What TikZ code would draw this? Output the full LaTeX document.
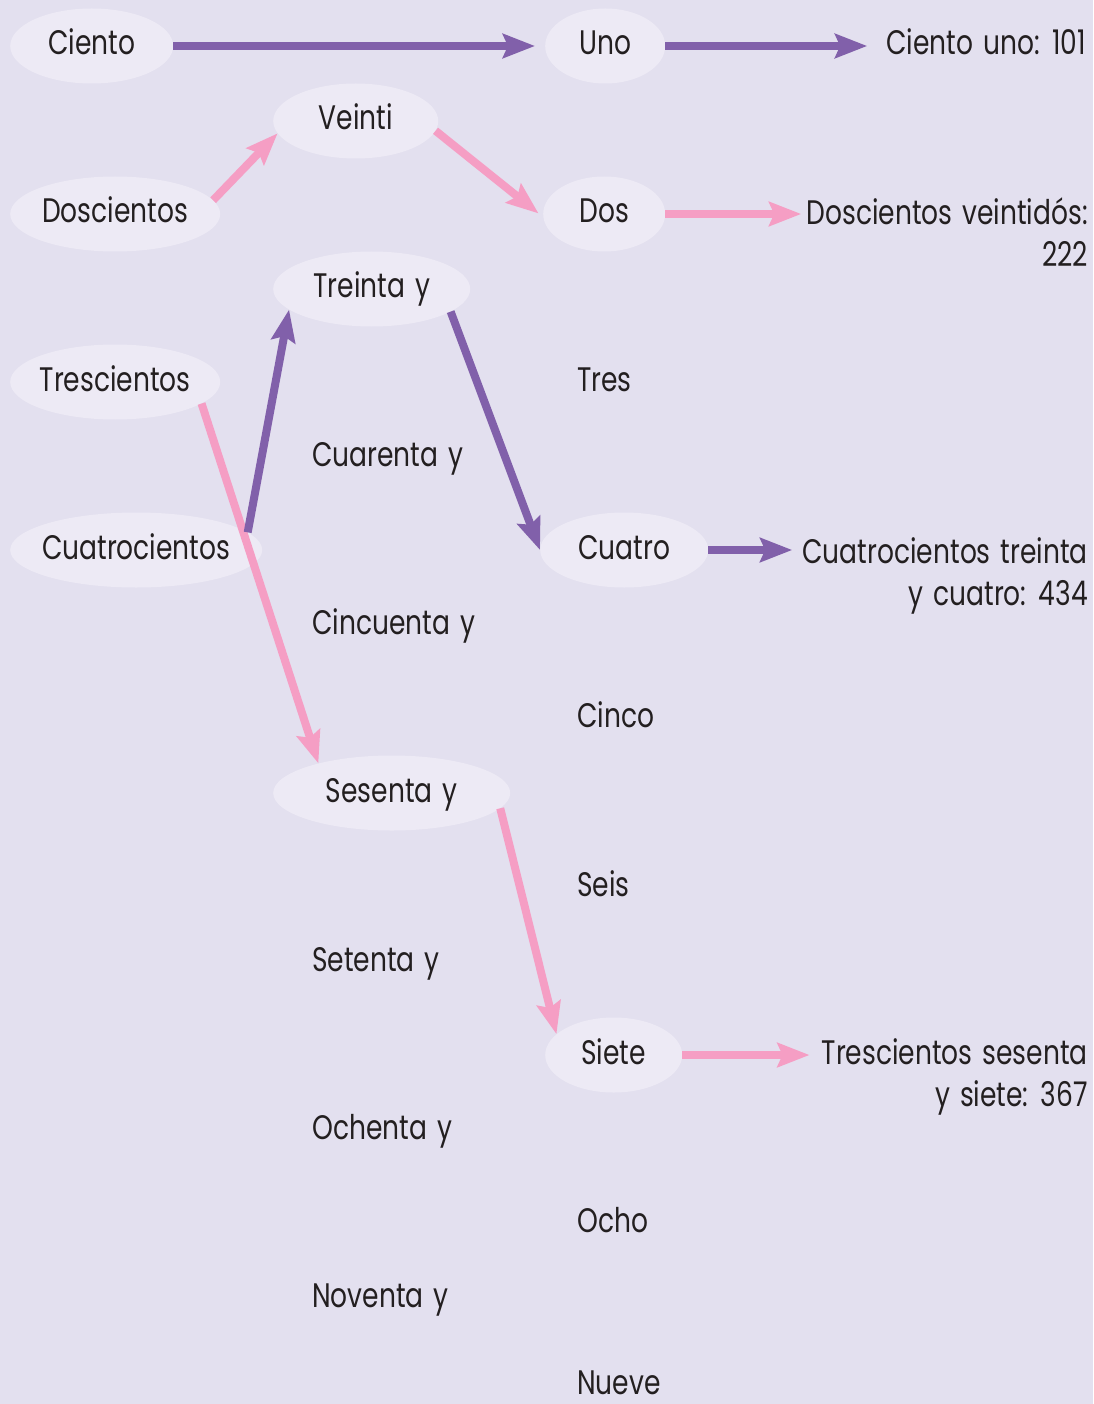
\documentclass[tikz,border=0pt]{standalone}
\usepackage{fontspec}
\setmainfont{Poppins}[FakeStretch=0.78, WordSpace=1.4, Numbers=Monospaced]
\usetikzlibrary{arrows.meta,shapes.geometric}
\definecolor{backlilac}{RGB}{227,224,239}
\definecolor{bubblelilac}{RGB}{237,234,245}
\definecolor{arrowpurple}{RGB}{129,96,170}
\definecolor{arrowpink}{RGB}{245,158,196}
\definecolor{inkgray}{RGB}{35,31,32}
\tikzset{
  word/.style={anchor=west, inner sep=0pt, text height=27pt, text depth=9pt, text=inkgray},
  bubble/.style={ellipse, fill=bubblelilac, minimum height=75pt, anchor=west, inner xsep=-25pt, inner ysep=0pt, text height=27pt, text depth=9pt, text=inkgray},
  result/.style={align=right, anchor=base east, inner sep=0pt, text=inkgray},
  link/.style={line width=8pt, -{Stealth[length=32pt,width=24pt,inset=5pt]}},
}
\begin{document}
\begin{tikzpicture}[x=1pt,y=-1pt,font=\fontsize{34}{42}\selectfont]
\fill[backlilac] (0,0) rectangle (1093,1404);
\useasboundingbox (0,0) rectangle (1093,1404);
\node[bubble, minimum width=163pt] (ciento) at (10,46) {Ciento};
\node[bubble, minimum width=210pt] (doscientos) at (10,214) {Doscientos};
\node[bubble, minimum width=210pt] (trescientos) at (10,382) {Trescientos};
\node[bubble, minimum width=252pt] (cuatrocientos) at (10,550) {Cuatrocientos};
\node[bubble, minimum width=165pt] (veinti) at (273,121) {Veinti};
\node[bubble, minimum width=197pt] (treinta) at (273,289) {Treinta y};
\node[bubble, minimum width=237pt] (sesenta) at (273,793) {Sesenta y};
\foreach \y/\w/\n in {457/Cuarenta y/cuarenta,625/Cincuenta y/cincuenta,962/Setenta y/setenta,1130/Ochenta y/ochenta,1298/Noventa y/noventa} {
  \node[word] (\n) at (312,\y) {\w};
}
\node[bubble, minimum width=120pt] (uno) at (545,46) {Uno};
\node[bubble, minimum width=122pt] (dos) at (543,214) {Dos};
\node[bubble, minimum width=168pt] (cuatro) at (540,550) {Cuatro};
\node[bubble, minimum width=137pt] (siete) at (545,1055) {Siete};
\foreach \y/\w/\n in {382/Tres/tres,718/Cinco/cinco,887/Seis/seis,1223/Ocho/ocho,1385/Nueve/nueve} {
  \node[word] (\n) at (577,\y) {\w};
}
\node[result] (res1) at (1086,55) {Ciento uno: 101};
\node[result] (res2) at (1088,267) {Doscientos veintidós:\\222};
\node[result] (res3) at (1088,605) {Cuatrocientos treinta\\y cuatro: 434};
\node[result] (res4) at (1088,1106) {Trescientos sesenta\\y siete: 367};
\draw[link, arrowpurple, shorten >=10pt] (ciento.east) -- (uno.west);
\draw[link, arrowpurple, shorten >=19pt] (uno.east) -- (uno.east -| res1.west);
\draw[link, arrowpink] (doscientos.8) -- (veinti.189);
\draw[link, arrowpink, shorten >=6pt] (veinti.-7) -- (dos.183);
\draw[link, arrowpink, shorten >=5pt] (dos.east) -- (dos.east -| res2.west);
\draw[link, arrowpink] (trescientos.-14) -- (sesenta.158);
\draw[link, arrowpurple] (cuatrocientos.9) -- (treinta.194);
\draw[link, arrowpurple] (treinta.-16) -- (cuatro.180);
\draw[link, arrowpurple, shorten >=10pt] (cuatro.east) -- (cuatro.east -| res3.west);
\draw[link, arrowpink] (sesenta.-8) -- (siete.160);
\draw[link, arrowpink, shorten >=12pt] (siete.east) -- (siete.east -| res4.west);
\end{tikzpicture}
\end{document}
